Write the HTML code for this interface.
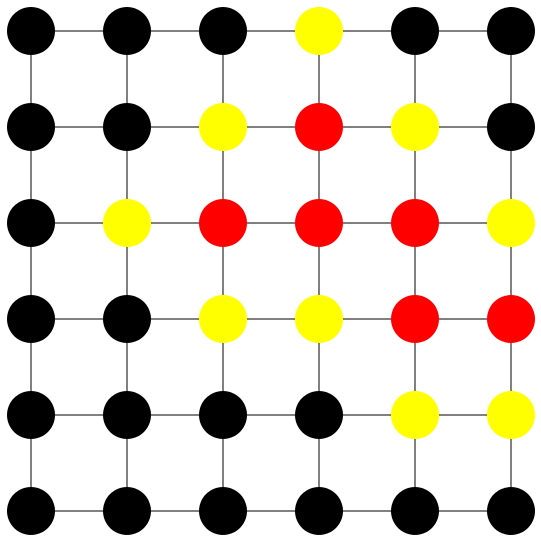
<!DOCTYPE html>
<html><head><meta charset="utf-8"><style>html,body{margin:0;padding:0;background:#fff}svg{display:block}</style></head>
<body>
<svg id="chart" width="541" height="541" xmlns="http://www.w3.org/2000/svg"></svg>
<script>
const row0 = ['B','B','B','Y','B','B'];
const row1 = ['B','B','Y','R','Y','B'];
const row2 = ['B','Y','R','R','R','Y'];
const row3 = ['B','B','Y','Y','R','R'];
const row4 = ['B','B','B','B','Y','Y'];
const row5 = ['B','B','B','B','B','B'];
const rows = [row0,row1,row2,row3,row4,row5];
const colorMap = {B:'#000000',Y:'#ffff00',R:'#ff0000'};
const svg = document.getElementById('chart');
const NS = 'http://www.w3.org/2000/svg';
function pos(i){ return 31 + i*96; }
const n = rows.length;
for (let r=0;r<n;r++){
  for (let c=0;c<n;c++){
    if (c<n-1){
      const l=document.createElementNS(NS,'line');
      l.setAttribute('x1',pos(c));l.setAttribute('y1',pos(r));l.setAttribute('x2',pos(c+1));l.setAttribute('y2',pos(r));
      l.setAttribute('stroke','#000');l.setAttribute('stroke-width','1');
      
      
      svg.appendChild(l);
    }
    if (r<n-1){
      const l=document.createElementNS(NS,'line');
      l.setAttribute('x1',pos(c));l.setAttribute('y1',pos(r));l.setAttribute('x2',pos(c));l.setAttribute('y2',pos(r+1));
      l.setAttribute('stroke','#000');l.setAttribute('stroke-width','1');
      
      
      svg.appendChild(l);
    }
  }
}
for (let r=0;r<n;r++){
  for (let c=0;c<n;c++){
    const ci=document.createElementNS(NS,'circle');
    ci.setAttribute('cx',pos(c));ci.setAttribute('cy',pos(r));ci.setAttribute('r',24);
    ci.setAttribute('fill',colorMap[rows[r][c]]);
    
    
    svg.appendChild(ci);
  }
}
</script>
</body></html>
